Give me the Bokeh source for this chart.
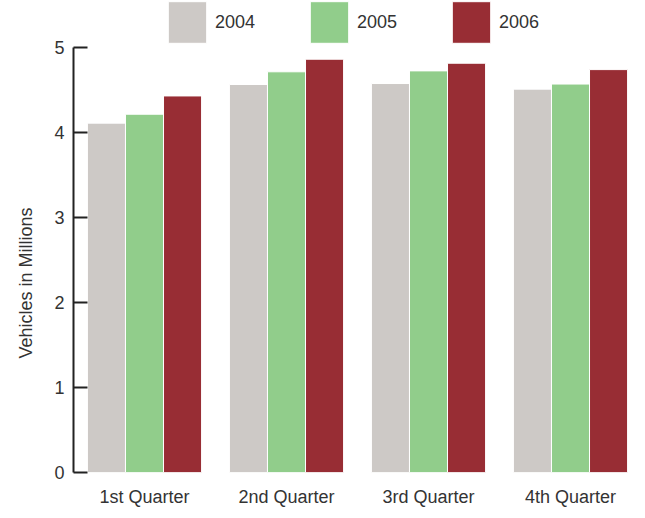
from bokeh.plotting import figure
from bokeh.models import ColumnDataSource, FactorRange, Range1d, Legend, LegendItem, Title, FixedTicker
from bokeh.transform import dodge
from bokeh.embed import file_html
from bokeh.resources import INLINE

quarters = ["1st Quarter", "2nd Quarter", "3rd Quarter", "4th Quarter"]
years = ["2004", "2005", "2006"]
v2004 = [4.11, 4.565, 4.576, 4.51]
v2005 = [4.215, 4.714, 4.725, 4.57]
v2006 = [4.43, 4.862, 4.815, 4.74]
y_ticks = [0, 1, 2, 3, 4, 5]
colors = ["#CDC9C6", "#91CD8B", "#982D34"]

FONT = "Liberation Sans"
TXT = "#333333"

# the frame reaches up to the top of the canvas so the legend sits inside it;
# the value axis itself only spans 0..5
Y_MAX = 5
Y_TOP = Y_MAX * 472 / 425

source = ColumnDataSource(dict(q=quarters, y2004=v2004, y2005=v2005, y2006=v2006))

p = figure(width=645, height=518, x_range=FactorRange(*quarters), y_range=Range1d(0, Y_TOP),
           output_backend="svg", toolbar_location=None,
           min_border_left=73, min_border_right=4, min_border_top=0, min_border_bottom=46)
p.outline_line_color = None
p.xgrid.grid_line_color = None
p.ygrid.grid_line_color = None
p.background_fill_color = "white"
p.border_fill_color = "white"

bw = 0.268
renderers = []
for i, (yr, col) in enumerate(zip(years, colors)):
    r = p.vbar(x=dodge("q", (i - 1) * bw, range=p.x_range), top="y" + yr, width=bw,
               source=source, fill_color=col, line_color="white", line_width=1)
    renderers.append(r)

# y axis
ya = p.yaxis[0]
ya.ticker = FixedTicker(ticks=y_ticks)
ya.bounds = (0, Y_MAX)
ya.axis_line_width = 2
ya.axis_line_color = "#222222"
ya.major_tick_line_width = 2
ya.major_tick_line_color = "#222222"
ya.major_tick_in = 14
ya.major_tick_out = 0
ya.minor_tick_line_color = None
ya.major_label_standoff = 9
ya.major_label_text_font = FONT
ya.major_label_text_font_size = "18px"
ya.major_label_text_color = TXT

# x axis
xa = p.xaxis[0]
xa.axis_line_color = None
xa.major_tick_line_color = None
xa.minor_tick_line_color = None
xa.major_label_standoff = 8
xa.major_label_text_font = FONT
xa.major_label_text_font_size = "18px"
xa.major_label_text_color = TXT

# y-axis title as a left-side title
ytitle = Title(text="Vehicles in Millions", align="left", offset=114, vertical_align="top",
               standoff=28, text_font=FONT, text_font_size="18px", text_font_style="normal",
               text_color=TXT)
p.add_layout(ytitle, "left")

legend = Legend(items=[LegendItem(label=yr, renderers=[r]) for yr, r in zip(years, renderers)],
                orientation="horizontal", location=(90, 424),
                glyph_width=48, glyph_height=52, label_standoff=4, label_width=51,
                spacing=39, padding=0, margin=0, border_line_color=None,
                background_fill_alpha=0, label_text_font=FONT, label_text_font_size="18px",
                label_text_color=TXT)
p.add_layout(legend)

open("out.html", "w").write(file_html(p, INLINE))
